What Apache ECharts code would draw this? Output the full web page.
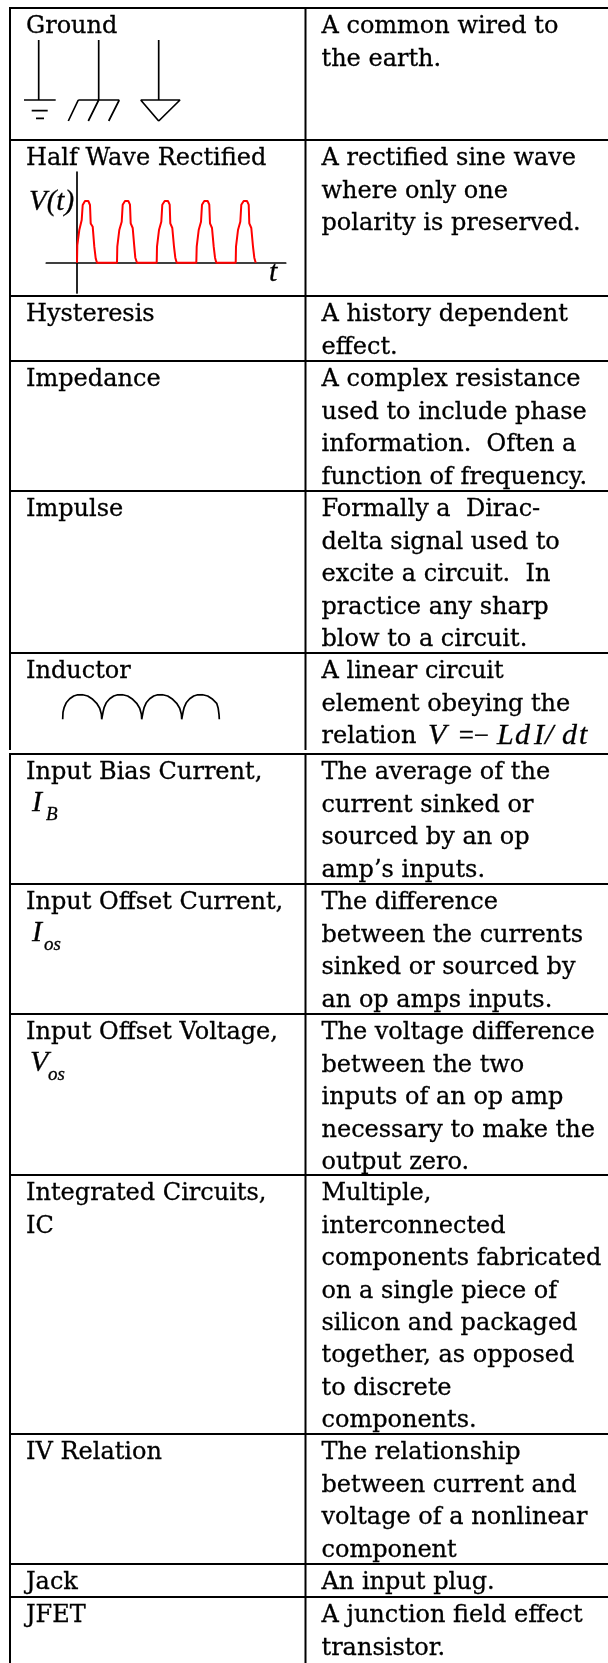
<!DOCTYPE html>
<html>
<head>
<meta charset="utf-8">
<title>Glossary G-J</title>
<style>
  html, body { margin: 0; padding: 0; background: #fff; }
  #main { width: 608px; height: 1663px; }
</style>
<script src="https://cdn.jsdelivr.net/npm/echarts@6/dist/echarts.min.js"></script>
</head>
<body>
<div id="main"></div>
<script>
// table text, one array of lines per row
var terms = [
  ['Ground'],
  ['Half Wave Rectified'],
  ['Hysteresis'],
  ['Impedance'],
  ['Impulse'],
  ['Inductor'],
  ['Input Bias Current,'],
  ['Input Offset Current,'],
  ['Input Offset Voltage,'],
  ['Integrated Circuits,', 'IC'],
  ['IV Relation'],
  ['Jack'],
  ['JFET']
]
var definitions = [
  ['A common wired to', 'the earth.'],
  ['A rectified sine wave', 'where only one', 'polarity is preserved.'],
  ['A history dependent', 'effect.'],
  ['A complex resistance', 'used to include phase', 'information.  Often a', 'function of frequency.'],
  ['Formally a  Dirac-', 'delta signal used to', 'excite a circuit.  In', 'practice any sharp', 'blow to a circuit.'],
  ['A linear circuit', 'element obeying the', 'relation'],
  ['The average of the', 'current sinked or', 'sourced by an op', 'amp\u2019s inputs.'],
  ['The difference', 'between the currents', 'sinked or sourced by', 'an op amps inputs.'],
  ['The voltage difference', 'between the two', 'inputs of an op amp', 'necessary to make the', 'output zero.'],
  ['Multiple,', 'interconnected', 'components fabricated', 'on a single piece of', 'silicon and packaged', 'together, as opposed', 'to discrete', 'components.'],
  ['The relationship', 'between current and', 'voltage of a nonlinear', 'component'],
  ['An input plug.'],
  ['A junction field effect', 'transistor.']
]
var rowTops = [8, 140, 296, 361, 491, 653, 754, 884, 1014, 1175, 1434, 1564, 1597]

// half wave trace: time and voltage
var waveT = [
  0, 0.3, 2.3, 4.7, 5.7, 8, 11.3, 13, 13.7, 15.7, 17.3, 18.7, 20,
  40, 40.3, 42.3, 44.7, 45.7, 48, 51.3, 53, 53.7, 55.7, 57.3, 58.3, 60,
  79.7, 80, 82, 84.3, 85.3, 87.7, 91, 92.7, 93.3, 95.3, 97, 98.3, 99.7,
  119.3, 119.7, 121.7, 124, 125, 127.3, 130.7, 132.3, 133, 135, 136.7, 138, 139.3,
  158.7, 159, 161, 163.3, 164.3, 166.7, 170, 171.7, 172.3, 174.3, 176, 177.3, 178.7
]
var waveV = [
  0, 17.7, 32.7, 42.7, 57.7, 61.7, 61.7, 57.7, 39.3, 36, 16, 4.3, 0,
  0, 16, 32.7, 41, 58, 61.7, 61.7, 58, 39.3, 34.7, 16, 5, 0,
  0, 16, 32.7, 41, 58, 61.7, 61.7, 58, 39.3, 34.7, 16, 5, 0,
  0, 16, 32.7, 41, 58, 61.7, 61.7, 58, 39.3, 34.7, 16, 5, 0,
  0, 16, 32.7, 41, 58, 61.7, 61.7, 58, 39.3, 34.7, 16, 5, 0
]

// inductor loops
var coilX = [
  0, 0.3, 1.5, 3.5, 7, 11, 15, 20, 25, 30, 34, 37, 38.7, 39,
  40, 40.3, 41.5, 43.5, 47, 51, 55, 60, 65, 70, 74, 77, 78.7, 79,
  80, 80.3, 81.5, 83.5, 87, 91, 95, 100, 105, 110, 114, 117, 118.7, 119,
  120, 120.3, 121.5, 123.5, 127, 131, 135, 140, 145, 150, 154, 155.5, 156.3, 156.6
]
var coilY = [
  0, 7, 12, 16.5, 20.5, 23.3, 24.5, 24.6, 23.3, 20, 16, 11, 5, 0,
  0, 7, 12, 16.5, 20.5, 23.3, 24.5, 24.6, 23.3, 20, 16, 11, 5, 0,
  0, 7, 12, 16.5, 20.5, 23.3, 24.5, 24.6, 23.3, 20, 16, 11, 5, 0,
  0, 7, 12, 16.5, 20.5, 23.3, 24.5, 24.6, 23.3, 20, 16, 11, 5, 0
]

// ground symbols, each stroke is a run of points, null breaks the pen
var groundX = [
  14.7, 14.7, null, 0, 31.7, null, 7.7, 23.7, null, 12, 20, null,
  74.7, 74.7, null, 54.3, 95.3, null, 54.3, 44.3, null, 74.7, 64.3, null, 95.3, 84.7, null,
  134.7, 134.7, null, 116.7, 156, 134.7, 116.7
]
var groundY = [
  81, 21, null, 21, 21, null, 10.3, 10.3, null, 2.7, 2.7, null,
  81, 21, null, 21, 21, null, 21, 0, null, 21, 0, null, 21, 0, null,
  81, 21, null, 21, 21, 0, 21
]

var TEXT_FONT = '"DejaVu Serif", serif'
var MATH_FONT = '"Liberation Serif", serif'
var COL_LEFT = 26
var COL_RIGHT = 321.5
var LINE_H = 32.4

function pairs (xs, ys) {
  return xs.map(function (x, i) {
    return x === null ? [null, null] : [x, ys[i]]
  })
}

function label (text, x, baseline) {
  return {
    type: 'text', x: x, y: baseline - 24 * 0.346 + 0.5, silent: true,
    style: { text: text, font: '24px ' + TEXT_FONT, fill: '#000', stroke: '#000', lineWidth: 0.3, verticalAlign: 'middle' }
  }
}

function math (text, x, baseline, size) {
  return {
    type: 'text', x: x, y: baseline - size * 0.3375, silent: true,
    style: { text: text, font: 'italic ' + size + 'px ' + MATH_FONT, fill: '#000', stroke: '#000', lineWidth: 0.3, verticalAlign: 'middle' }
  }
}

function rule (x1, y1, x2, y2) {
  return {
    type: 'line', silent: true,
    shape: { x1: x1, y1: y1, x2: x2, y2: y2 },
    style: { stroke: '#000', lineWidth: 2 }
  }
}

var elements = []
rowTops.forEach(function (top, i) {
  elements.push(rule(9, top, 608, top))
  terms[i].forEach(function (line, n) {
    elements.push(label(line, COL_LEFT, top + 27 + n * LINE_H))
  })
  definitions[i].forEach(function (line, n) {
    elements.push(label(line, COL_RIGHT, top + 27 + n * LINE_H))
  })
})
elements.push(rule(10, 8, 10, 750), rule(10, 754, 10, 1663))
elements.push(rule(305.5, 8, 305.5, 750), rule(305.5, 754, 305.5, 1663))

elements.push(
  math('V(t)', 29, 212, 29),
  math('t', 269, 283, 30),
  math('I', 32, 813, 30), math('B', 46, 821, 19),
  math('I', 32, 943, 30), math('os', 44, 951, 19),
  math('V', 30, 1073, 30), math('os', 48, 1081, 19),
  math('V', 428, 746, 30), math('=', 457, 746, 27), math('\u2212', 472, 746, 27),
  math('L', 497, 746, 30), math('d', 515, 746, 30), math('I', 534, 746, 30),
  math('/', 545, 746, 30), math('d', 562, 746, 30), math('t', 579, 746, 30)
)

function plainAxis (gridIndex, min, max) {
  return { type: 'value', gridIndex: gridIndex, min: min, max: max, show: false }
}

function crossAxis (gridIndex, min, max) {
  return {
    type: 'value', gridIndex: gridIndex, min: min, max: max,
    axisLine: { show: true, onZero: true, lineStyle: { color: '#000', width: 1.7 } },
    axisTick: { show: false }, axisLabel: { show: false }, splitLine: { show: false }
  }
}

var option = {
  animation: false,
  backgroundColor: '#fff',
  graphic: { elements: elements },
  grid: [
    { left: 24, top: 40, width: 156, height: 81 },
    { left: 46.3, top: 172, width: 239.4, height: 121 },
    { left: 62.7, top: 694.7, width: 156.6, height: 24.6 }
  ],
  xAxis: [
    plainAxis(0, 0, 156),
    crossAxis(1, -30.7, 208.7),
    plainAxis(2, 0, 156.6)
  ],
  yAxis: [
    plainAxis(0, 0, 81),
    crossAxis(1, -30.3, 90.7),
    plainAxis(2, 0, 24.6)
  ],
  series: [
    {
      type: 'line', xAxisIndex: 0, yAxisIndex: 0, showSymbol: false, silent: true,
      connectNulls: false,
      lineStyle: { color: '#000', width: 1.7 },
      data: pairs(groundX, groundY)
    },
    {
      type: 'line', xAxisIndex: 1, yAxisIndex: 1, showSymbol: false, silent: true,
      lineStyle: { color: '#f00', width: 2 },
      data: pairs(waveT, waveV)
    },
    {
      type: 'line', xAxisIndex: 2, yAxisIndex: 2, showSymbol: false, silent: true,
      lineStyle: { color: '#000', width: 1.7 },
      data: pairs(coilX, coilY)
    }
  ]
}

var chart = echarts.init(document.getElementById('main'))
chart.setOption(option)
</script>
</body>
</html>
